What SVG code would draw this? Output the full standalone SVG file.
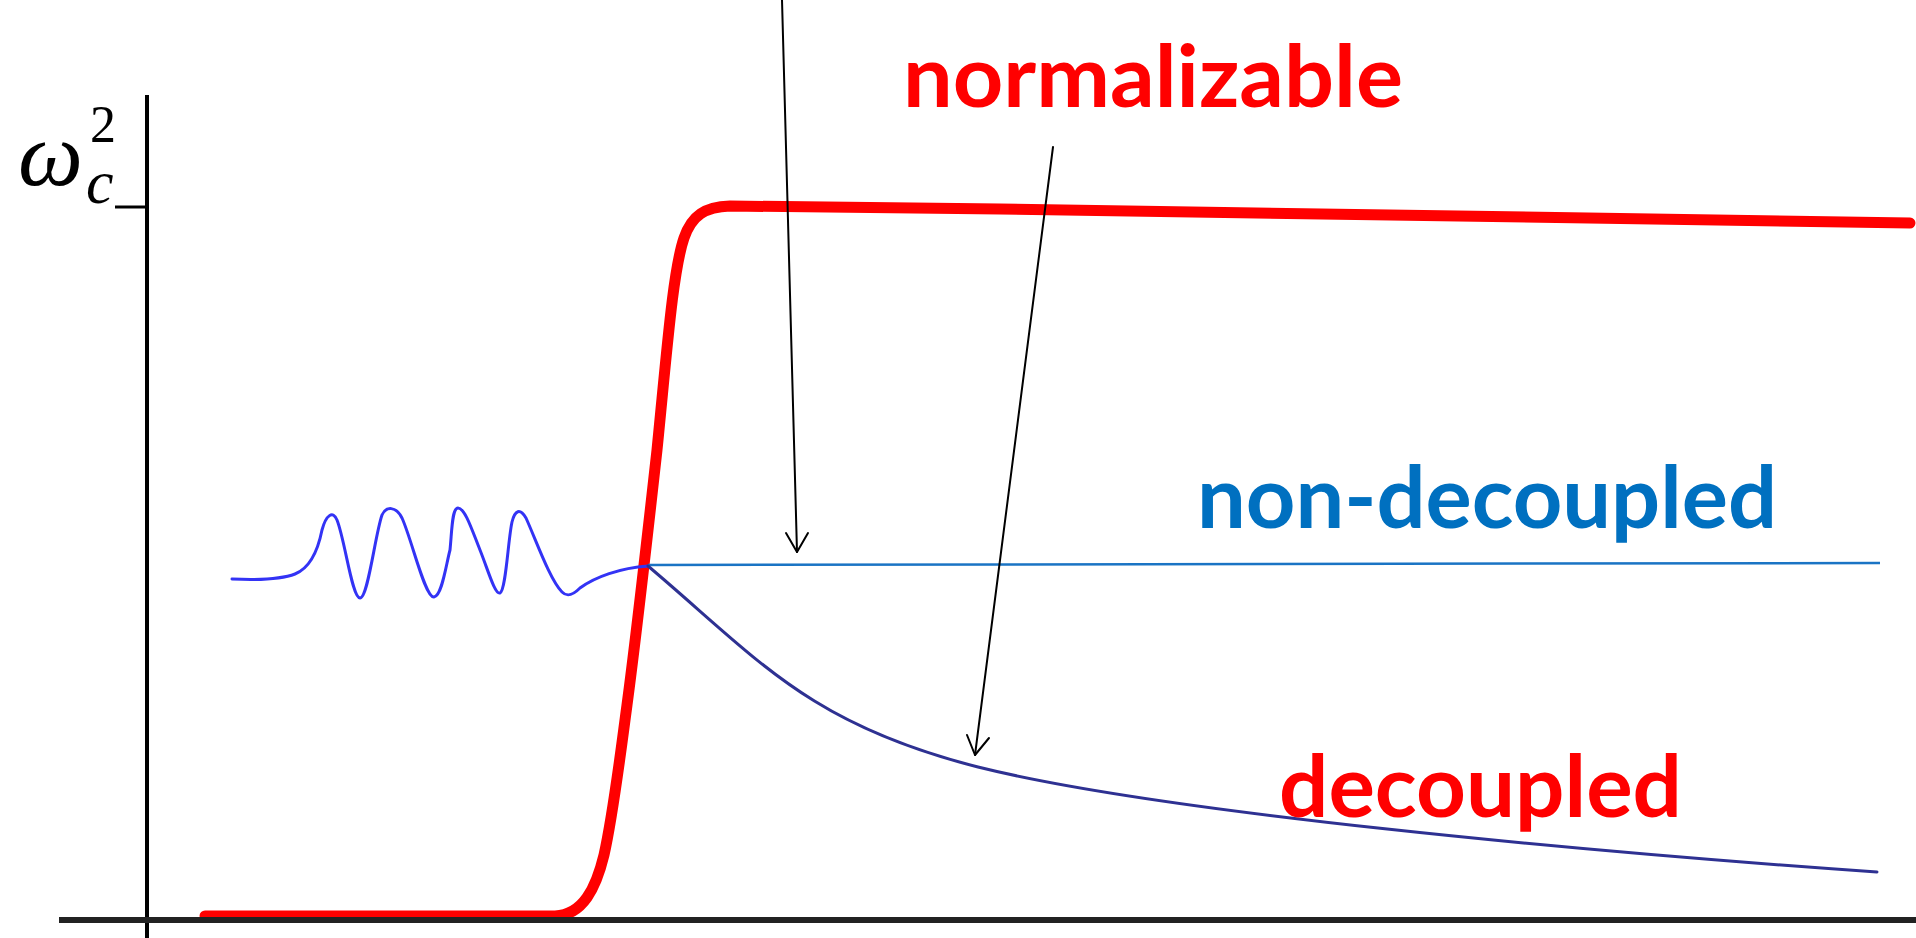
<svg xmlns="http://www.w3.org/2000/svg" width="1916" height="938" viewBox="0 0 1916 938">
<style>
.lbl{font-family:Lato,"Open Sans","Liberation Sans",sans-serif;font-weight:bold;font-size:86px}
.math{font-family:"Liberation Serif","DejaVu Serif",serif}
.arrow{fill:none;stroke:#000;stroke-width:2;stroke-linecap:round;stroke-linejoin:round}
</style>
<rect width="1916" height="938" fill="#fff"/>
<g id="red-curve">
<path d="M205,916 L555,916 C583,915 596,888 604,855 C613,815 619,765 627,705 C637,630 647,540 657,450 C667,350 673,270 684,238 C692,215 705,207 730,206 L1000,209 L1910,223" fill="none" stroke="#ff0000" stroke-width="11" stroke-linecap="round" stroke-linejoin="round"/>
</g>
<g id="axes">
<line x1="147" y1="95" x2="147" y2="938" stroke="#000" stroke-width="4"/>
<line x1="115" y1="207" x2="147" y2="207" stroke="#000" stroke-width="3"/>
<line x1="59" y1="920" x2="1916" y2="920" stroke="#222" stroke-width="6"/>
</g>
<g id="axis-label">
<text class="math" x="18" y="185" font-size="92" font-style="italic">ω</text>
<text class="math" x="86" y="203" font-size="62" font-style="italic">c</text>
<text class="math" x="90" y="142" font-size="52">2</text>
</g>
<g id="wave">
<path d="M232,579 C255,580 280,580 295,574 C310,568 318,550 322,530 C326,515 333,510 337,520 C345,540 352,598 360,598 C368,598 375,535 382,515 C386,506 396,506 402,518 C412,540 425,598 434,597 C442,596 446,565 450,550 C452,530 452,508 458,508 C465,508 472,530 480,550 C488,570 495,595 500,593 C506,590 508,540 512,522 C515,510 520,508 526,518 C536,540 550,580 562,592 C568,598 574,594 580,588 C595,577 620,568 648,566" fill="none" stroke="#3333f5" stroke-width="3" stroke-linecap="round"/>
</g>
<g id="non-decoupled-line">
<path d="M648,565 L1880,563" fill="none" stroke="#1a74c4" stroke-width="2.5"/>
</g>
<g id="decoupled-curve">
<path d="M648,566 C758,659 808,724 978,767 C1158,812 1577,851 1877,872" fill="none" stroke="#2e3192" stroke-width="3" stroke-linecap="round"/>
</g>
<g id="connectors">
<path class="arrow" d="M782,0 L797,552"/>
<path class="arrow" d="M786,533 L797,552 L808,533"/>
<path class="arrow" d="M1053,147 L975,755"/>
<path class="arrow" d="M967,735 L975,755 L989,738"/>
</g>
<g id="label-normalizable">
<text class="lbl" x="903" y="107" fill="#ff0000" textLength="500" lengthAdjust="spacingAndGlyphs">normalizable</text>
</g>
<g id="label-non-decoupled">
<text class="lbl" x="1197" y="528" fill="#0070c0" textLength="580" lengthAdjust="spacingAndGlyphs">non-decoupled</text>
</g>
<g id="label-decoupled">
<text class="lbl" x="1279" y="817" fill="#ff0000" textLength="403" lengthAdjust="spacingAndGlyphs">decoupled</text>
</g>
</svg>
